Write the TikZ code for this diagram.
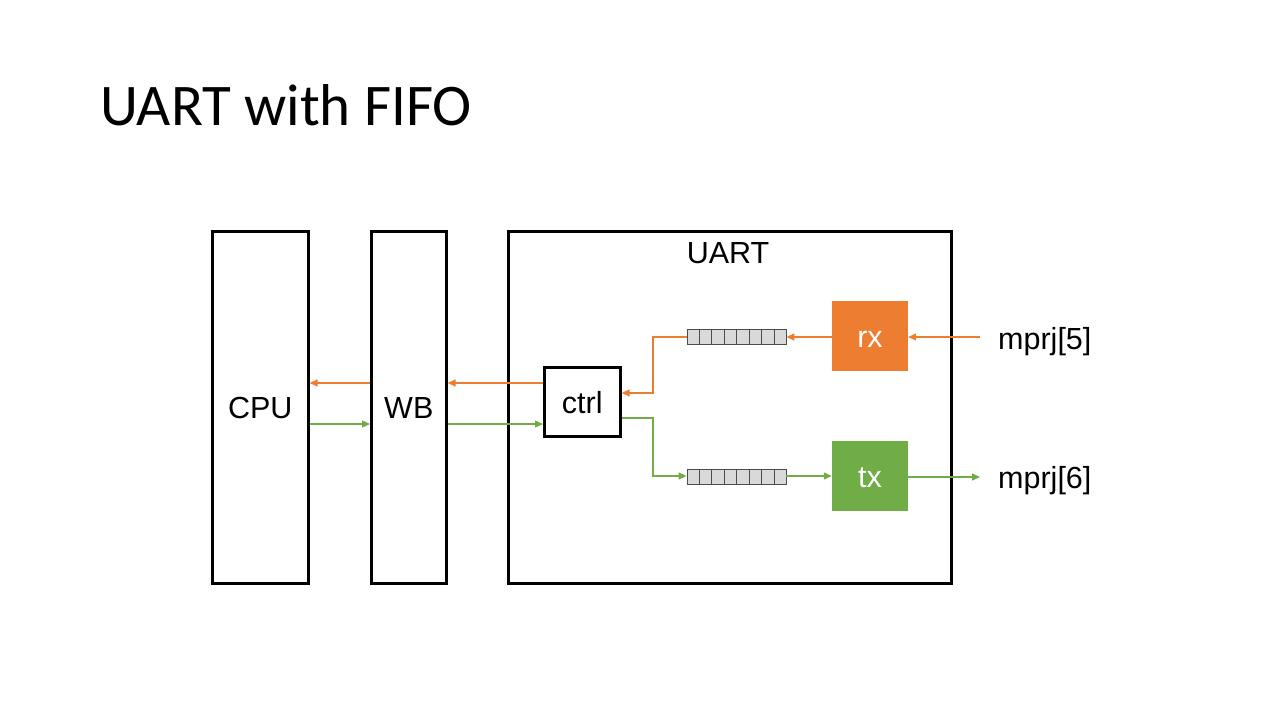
\documentclass[tikz,border=0pt]{standalone}
\usepackage{fontspec}
\setmainfont{Liberation Sans}
\newfontfamily\titlefont{Carlito}
\usetikzlibrary{arrows.meta,calc}
\definecolor{uorange}{HTML}{ED7D31}
\definecolor{ugreen}{HTML}{70AD47}
\definecolor{fifogray}{HTML}{D9D9D9}
\begin{document}
\begin{tikzpicture}[x=1pt,y=-1pt,
  blk/.style={draw=black,line width=2.6pt,inner sep=0pt,anchor=north west},
  lbl/.style={font=\fontsize{30.5}{34}\selectfont,text height=23pt,text depth=0pt,inner sep=0pt},
  fifobox/.style={draw=black!70,fill=fifogray,line width=0.8pt,minimum width=99pt,minimum height=15pt,inner sep=0pt},
  sig/.style={line width=1.3pt,-{Triangle[length=8pt,width=7pt]}},
  ors/.style={sig,draw=uorange,color=uorange},
  grs/.style={sig,draw=ugreen,color=ugreen}]
\useasboundingbox (0,0) rectangle (1280,720);
\node[anchor=base west,font=\titlefont\fontsize{59}{64}\selectfont,inner sep=0pt] (title) at (100,125) {UART with FIFO};
% big boxes
\node[blk,minimum width=96pt,minimum height=352pt] (cpu) at (211,230) {};
\node[lbl] (cpul) at (cpu.center) {CPU};
\node[blk,minimum width=75pt,minimum height=352pt] (wb) at (370,230) {};
\node[lbl] (wbl) at (wb.center) {WB};
\node[blk,minimum width=443pt,minimum height=352pt] (uart) at (507,230) {};
\node[lbl] (uartl) at (728,252) {UART};
\node[blk,minimum width=76pt,minimum height=69pt] (ctrl) at (543,366) {};
\node[lbl] (ctrll) at (ctrl.center) {ctrl};
\node[fill=uorange,minimum width=76pt,minimum height=70pt,lbl,text=white] (rx) at (870,336) {rx};
\node[fill=ugreen,minimum width=76pt,minimum height=70pt,lbl,text=white] (tx) at (870,476) {tx};
% fifos
\node[fifobox] (f1) at (736.5,336.5) {};
\node[fifobox] (f2) at (736.5,476.5) {};
\foreach \f in {f1,f2}{
  \foreach \i in {1,...,7}{
    \draw[black!70,line width=0.8pt] ($(\f.north west)!\i/8!(\f.north east)$) -- ($(\f.south west)!\i/8!(\f.south east)$);
  }
}
% external labels
\node[lbl,anchor=west] (m5) at (998,338) {mprj[5]};
\node[lbl,anchor=west] (m6) at (998,477) {mprj[6]};
\coordinate (m5e) at (980,337);
\coordinate (m6e) at (980,477);
% rx path
\draw[ors] (m5e) -- (rx.east |- m5e);
\draw[ors] (rx.west |- 0,337) -- (f1.east |- 0,337);
\draw[ors] (f1.west |- 0,337) -- (653,337) -- (653,393) -- (ctrl.east |- 0,393);
\draw[ors] (ctrl.west |- 0,383) -- (wb.east |- 0,383);
\draw[ors] (wb.west |- 0,383) -- (cpu.east |- 0,383);
% tx path
\draw[grs] (cpu.east |- 0,424) -- (wb.west |- 0,424);
\draw[grs] (wb.east |- 0,424) -- (ctrl.west |- 0,424);
\draw[grs] (ctrl.east |- 0,418) -- (653,418) -- (653,476) -- (f2.west |- 0,476);
\draw[grs] (f2.east |- 0,476) -- (tx.west |- 0,476);
\draw[grs] (tx.east |- m6e) -- (m6e);
\end{tikzpicture}
\end{document}
